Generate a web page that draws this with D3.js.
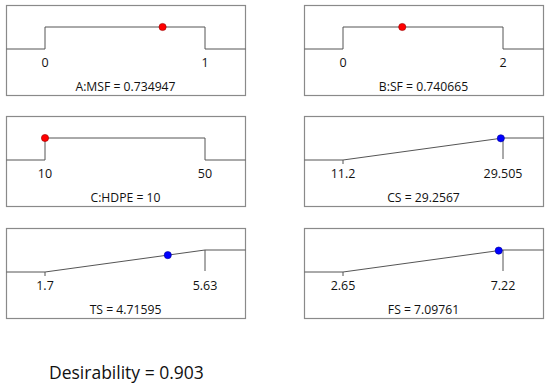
<!DOCTYPE html>
<html>
<head>
<meta charset="utf-8">
<script src="https://cdn.jsdelivr.net/npm/d3@7"></script>
<style>
  body { margin: 0; background: #fff; }
  text { font-family: "Open Sans", "Noto Sans", sans-serif; fill: #111; }
</style>
</head>
<body>
<div id="chart"></div>
<script>
// Donnees du graphique de desirabilite
var names = ["A:MSF", "B:SF", "C:HDPE", "CS", "TS", "FS"];
var lows = [0, 0, 10, 11.2, 1.7, 2.65];
var highs = [1, 2, 50, 29.505, 5.63, 7.22];
var values = [0.734947, 0.740665, 10, 29.2567, 4.71595, 7.09761];
var valueLabels = ["0.734947", "0.740665", "10", "29.2567", "4.71595", "7.09761"];
var lowLabels = ["0", "0", "10", "11.2", "1.7", "2.65"];
var highLabels = ["1", "2", "50", "29.505", "5.63", "7.22"];
var goals = ["range", "range", "range", "max", "max", "max"];
var desirability = 0.903;

var width = 550,
    height = 388;

var svg = d3.select("#chart")
    .append("svg")
    .attr("width", width)
    .attr("height", height);

var boxW = 239, boxH = 90;
var colX = [6, 304];
var rowY = [5, 116, 228];

// echelle verticale commune : desirabilite 0 -> 1
var y = d3.scaleLinear().domain([0, 1]).range([44, 22]);

names.forEach(function (name, i) {
    var g = svg.append("g")
        .attr("transform", "translate(" + colX[i % 2] + "," + rowY[Math.floor(i / 2)] + ")");

    var x = d3.scaleLinear().domain([lows[i], highs[i]]).range([39, 199]);

    g.append("rect")
        .attr("x", 0.5).attr("y", 0.5)
        .attr("width", boxW).attr("height", boxH)
        .attr("fill", "none")
        .attr("stroke", "#8a8a8a")
        .attr("stroke-width", 1.2);

    var line = d3.line().x(d => d[0]).y(d => d[1]);
    var pts, dotY;
    if (goals[i] === "range") {
        pts = [[0.5, y(0)], [x(lows[i]), y(0)], [x(lows[i]), y(1)],
               [x(highs[i]), y(1)], [x(highs[i]), y(0)], [boxW + 0.5, y(0)]];
        dotY = y(1);
    } else {
        pts = [[0.5, y(0)], [x(lows[i]), y(0)], [x(highs[i]), y(1)], [boxW + 0.5, y(1)]];
        dotY = y((values[i] - lows[i]) / (highs[i] - lows[i]));
        // petits traits aux bornes
        g.append("line")
            .attr("x1", x(lows[i])).attr("x2", x(lows[i]))
            .attr("y1", y(0)).attr("y2", y(0) + 4)
            .attr("stroke", "#555");
        g.append("line")
            .attr("x1", x(highs[i])).attr("x2", x(highs[i]))
            .attr("y1", y(1)).attr("y2", y(0) - 1)
            .attr("stroke", "#555");
    }
    g.append("path")
        .attr("d", line(pts))
        .attr("fill", "none")
        .attr("stroke", "#555")
        .attr("stroke-width", 1);

    g.append("circle")
        .attr("cx", x(values[i]))
        .attr("cy", dotY)
        .attr("r", 3.6)
        .attr("fill", goals[i] === "range" ? "#ff0000" : "#0000ff")
        .attr("stroke", goals[i] === "range" ? "#9a0000" : "#00009a")
        .attr("stroke-width", 0.6);

    g.append("text")
        .attr("x", x(lows[i])).attr("y", 62)
        .attr("text-anchor", "middle")
        .attr("font-size", 12.5)
        .text(lowLabels[i]);
    g.append("text")
        .attr("x", x(highs[i])).attr("y", 62)
        .attr("text-anchor", "middle")
        .attr("font-size", 12.5)
        .text(highLabels[i]);

    g.append("text")
        .attr("x", boxW / 2).attr("y", 86)
        .attr("text-anchor", "middle")
        .attr("font-size", 12.2)
        .text(name + " = " + valueLabels[i]);
});

svg.append("text")
    .attr("x", 49).attr("y", 379)
    .attr("font-size", 17.5)
    .text("Desirability = " + desirability);
</script>
</body>
</html>
